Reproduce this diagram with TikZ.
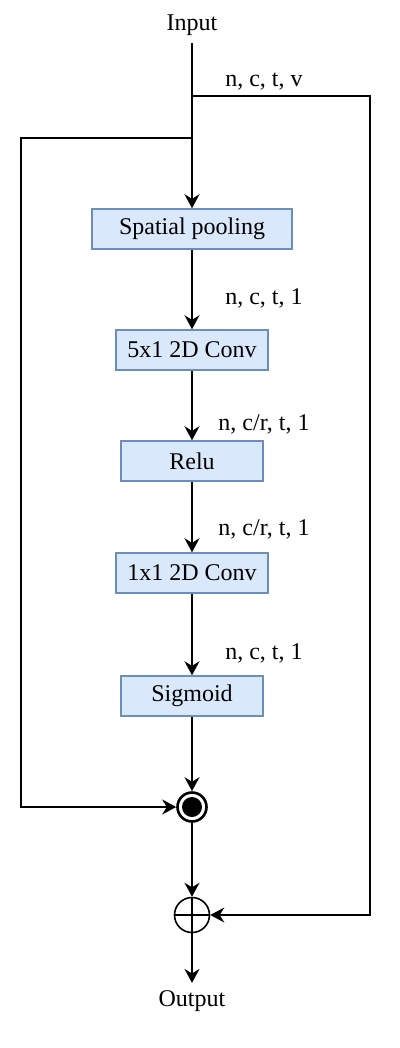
\documentclass[tikz,border=0pt]{standalone}
\usepackage{fontspec}
\setmainfont{Liberation Serif}
\usetikzlibrary{arrows.meta}
\definecolor{boxfill}{HTML}{DAE8FC}
\definecolor{boxline}{HTML}{6C8EBF}
\begin{document}
\begin{tikzpicture}[x=0.5pt,y=-0.5pt,
  every node/.style={font=\fontsize{12}{14}\selectfont},
  lbl/.style={inner sep=3.6pt},
  dims/.style={anchor=base, inner sep=0pt},
  blk/.style={draw=boxline, fill=boxfill, line width=0.75pt, inner sep=0pt, minimum height=20pt},
  wire/.style={line width=1pt, draw=black},
  arr/.style={wire, -{Stealth[length=7pt, width=7.5pt, inset=2.3pt]}},
  mulnode/.style={circle, draw=black, line width=1.3pt, minimum size=14.5pt, inner sep=0pt},
  plusnode/.style={circle, draw=black, line width=0.8pt, minimum size=17.5pt, inner sep=0pt,
    path picture={\draw[line width=0.8pt] (path picture bounding box.north) -- (path picture bounding box.south)
      (path picture bounding box.west) -- (path picture bounding box.east);}}
]
\useasboundingbox (0,0) rectangle (400,1048);

\node[lbl] (in) at (192,25) {Input};
\node[lbl] (out) at (192,1001) {Output};

\node[blk, minimum width=100pt] (sp) at (192,229) {Spatial pooling};
\node[blk, minimum width=76pt] (c5) at (192,350) {5x1 2D Conv};
\node[blk, minimum width=71pt] (relu) at (192,461) {Relu};
\node[blk, minimum width=76pt] (c1) at (192,573) {1x1 2D Conv};
\node[blk, minimum width=71pt] (sig) at (192,696) {Sigmoid};

\node[mulnode] (mul) at (192,807) {};
\fill[black] (mul.center) circle (10);
\node[plusnode] (plus) at (192,915) {};

\coordinate (br1) at (192,96);
\coordinate (br2) at (192,138);
\coordinate (rc) at (370,96);
\coordinate (lc) at (21,138);

\node[dims] (d0) at (264,87) {n, c, t, v};
\node[dims] (d1) at (264,304) {n, c, t, 1};
\node[dims] (d2) at (264,430) {n, c/r, t, 1};
\node[dims] (d3) at (264,535) {n, c/r, t, 1};
\node[dims] (d4) at (264,659) {n, c, t, 1};

\draw[arr] (in.south) -- (sp.north);
\draw[arr] (sp.south) -- (c5.north);
\draw[arr] (c5.south) -- (relu.north);
\draw[arr] (relu.south) -- (c1.north);
\draw[arr] (c1.south) -- (sig.north);
\draw[arr] (sig.south) -- (mul.north);
\draw[arr] (mul.south) -- (plus.north);
\draw[arr] (plus.south) -- (out.north);
\draw[arr] (br1) -- (rc) |- (plus.east);
\draw[arr] (br2) -- (lc) |- (mul.west);
\end{tikzpicture}
\end{document}
